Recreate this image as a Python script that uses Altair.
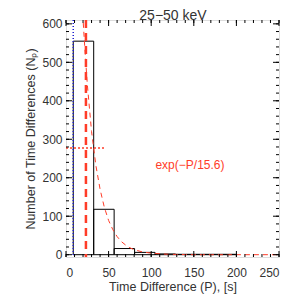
import altair as alt
import pandas as pd

# ---- data ----
bin_lo = [8.5, 32.5, 56.5, 80.5, 104.5, 128.5, 152.5, 176.5]
bin_hi = [32.5, 56.5, 80.5, 104.5, 128.5, 152.5, 176.5, 200.5]
counts = [555, 118, 16, 6, 2, 1, 1, 1]

fit_p = [19.6, 22, 25, 30, 35, 40, 45, 50, 55, 60, 65, 70, 75, 80, 90, 100, 120, 150, 200, 250]
fit_n = [626, 540, 443, 320, 233, 170, 123, 89, 65, 47, 34, 25, 18, 13, 7, 4, 1, 0, 0, 0]

blue_p = [8.5]          # lower bin edge marker
red_p = [23.4]          # thick dashed marker
half_y = [277]          # half-maximum level
half_x0 = [0]
half_x1 = [45]

label_text = ["exp(\u2212P/15.6)"]
label_p = [145.5]
label_n = [233]

x_major = [0, 50, 100, 150, 200, 250]
x_minor = list(range(0, 251, 10))
y_major = [0, 100, 200, 300, 400, 500, 600]
y_minor = list(range(0, 601, 20))

title_text = ["25\u221250  keV"]

W, H = 213, 237
RED = "#ff3c28"
FONT = "Liberation Sans"

xs = alt.Scale(domain=[0, 250], nice=False, zero=False)
ys = alt.Scale(domain=[-6, 610], nice=False, zero=False)

xaxis = alt.Axis(
    values=x_major, title="Time Difference (P), [s]", grid=False, ticks=False, tickSize=0,
    domain=False, labelFontSize=12, labelFont=FONT, labelColor="#333", labelPadding=10,
    labelOverlap=False,
    titleFont=FONT, titleFontSize=12.5, titleFontWeight="normal", titleColor="#333",
    titleBaseline="middle", titleY=29)
yaxis = alt.Axis(
    values=y_major, title="Number of Time Differences (N\u209a)", grid=False, ticks=False,
    tickSize=0, domain=False, labelFontSize=12, labelFont=FONT, labelColor="#333",
    labelPadding=4, labelOverlap=False, titleFont=FONT, titleFontSize=12.5,
    titleFontWeight="normal", titleColor="#333", titleBaseline="middle", titleX=-36)

def X(f):
    return alt.X(f, scale=xs, axis=xaxis)

def Y(f):
    return alt.Y(f, scale=ys, axis=yaxis)

hist_df = pd.DataFrame({"lo": bin_lo, "hi": bin_hi, "n": counts, "z": [0] * len(counts)})
fit_df = pd.DataFrame({"p": fit_p, "n": fit_n})

hist = alt.Chart(hist_df).mark_rect(fillOpacity=0, stroke="black", strokeWidth=1).encode(
    x=X("lo:Q"), x2="hi:Q", y=Y("n:Q"), y2="z:Q")

fit = alt.Chart(fit_df).mark_line(clip=True, color=RED, strokeWidth=1, strokeDash=[5, 4]).encode(
    x=X("p:Q"), y=Y("n:Q"))

blue = alt.Chart(pd.DataFrame({"p": blue_p})).mark_rule(
    color="#2020d0", strokeWidth=1.5, strokeDash=[1, 2]).encode(
    x=X("p:Q"), y=alt.value(0), y2=alt.value(H))

redv = alt.Chart(pd.DataFrame({"p": red_p})).mark_rule(
    color=RED, strokeWidth=2.5, strokeDash=[8, 5]).encode(
    x=X("p:Q"), y=alt.value(0), y2=alt.value(H))

half = alt.Chart(pd.DataFrame({"a": half_x0, "b": half_x1, "y": half_y})).mark_rule(
    color=RED, strokeWidth=1.5, strokeDash=[2, 2]).encode(
    x=X("a:Q"), x2="b:Q", y=Y("y:Q"))

lab = alt.Chart(pd.DataFrame({"t": label_text, "p": label_p, "n": label_n})).mark_text(
    color=RED, fontSize=12, font=FONT).encode(
    x=X("p:Q"), y=Y("n:Q"), text="t:N")

title = alt.Chart(pd.DataFrame({"t": title_text})).mark_text(
    fontSize=14, font=FONT, color="#333", baseline="top").encode(
    x=alt.value(107), y=alt.value(-11), text="t:N")

def xticks(vals, ln):
    d = pd.DataFrame({"v": vals})
    b = alt.Chart(d).mark_rule(color="black", strokeWidth=1).encode(
        x=X("v:Q"), y=alt.value(H), y2=alt.value(H - ln))
    t = alt.Chart(d).mark_rule(color="black", strokeWidth=1).encode(
        x=X("v:Q"), y=alt.value(0), y2=alt.value(ln))
    return [b, t]

def yticks(vals, ln):
    d = pd.DataFrame({"v": vals})
    l = alt.Chart(d).mark_rule(color="black", strokeWidth=1).encode(
        y=Y("v:Q"), x=alt.value(0), x2=alt.value(ln))
    r = alt.Chart(d).mark_rule(color="black", strokeWidth=1).encode(
        y=Y("v:Q"), x=alt.value(W), x2=alt.value(W - ln))
    return [l, r]

layers = [hist, fit, blue, redv, half, lab, title]
layers += xticks(x_major, 6) + xticks(x_minor, 3) + yticks(y_major, 6) + yticks(y_minor, 3)

chart = alt.layer(*layers).properties(
    width=W, height=H,
    autosize=alt.AutoSizeParams(type="none"),
    padding={"left": 58, "top": 12, "right": 12, "bottom": 42},
).configure_view(stroke="black", strokeWidth=1).configure(background="white")

chart.save("out.html", embed_options={"renderer": "svg", "actions": False})
